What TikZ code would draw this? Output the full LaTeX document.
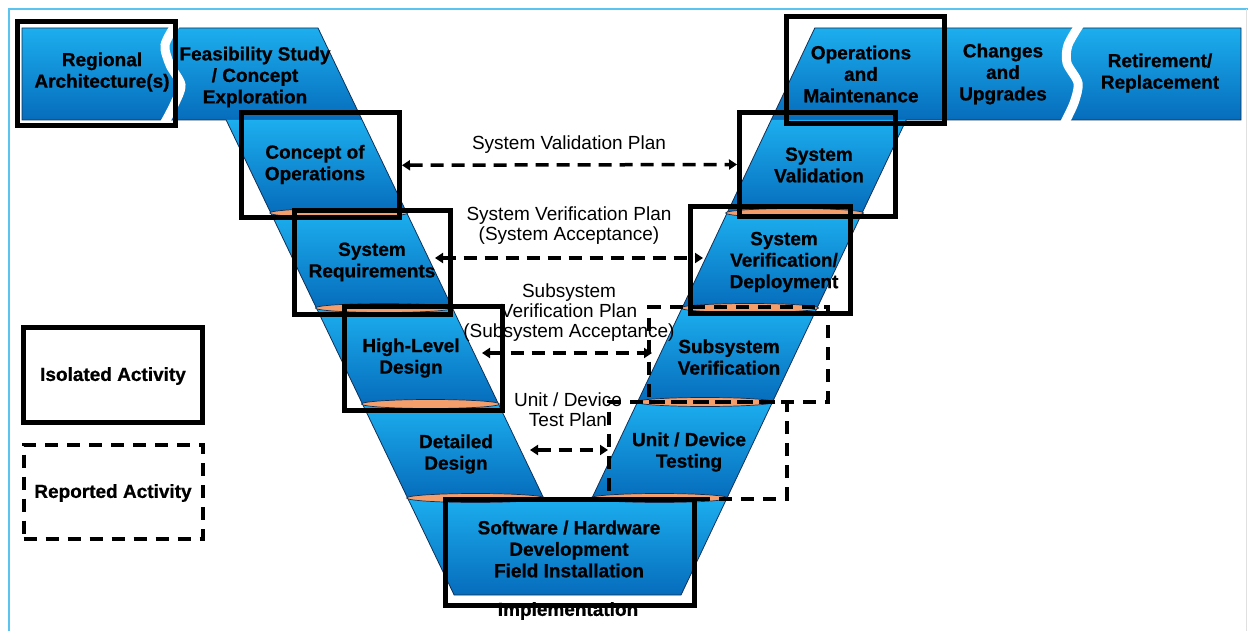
\documentclass[tikz,border=0pt]{standalone}
\usepackage{fontspec}
\setmainfont{Liberation Sans}[BoldFeatures={FakeBold=0.8}]
\usetikzlibrary{arrows.meta}
\usetikzlibrary{fit}

\definecolor{vlight}{RGB}{28,174,238}
\definecolor{vdark}{RGB}{6,108,188}
\definecolor{vedge}{RGB}{18,48,86}
\definecolor{seamcol}{RGB}{244,158,108}
\definecolor{framecol}{RGB}{90,195,240}

\tikzset{
  band/.style={top color=vlight,bottom color=vdark},
  seam/.style={fill=seamcol,draw=vedge,line width=0.7pt},
  stage/.style={font=\bfseries\fontsize{19}{21.5}\selectfont,align=center,inner sep=0pt},
  plantext/.style={font=\fontsize{19}{20}\selectfont,align=center,inner sep=0pt},
  isolated/.style={draw=black,line width=5pt,inner sep=0pt},
  reported/.style={draw=black,line width=4pt,dash pattern=on 13pt off 9pt,inner sep=0pt},
  plan/.style={line width=3.5pt,dash pattern=on 13pt off 8pt,
    {Triangle[width=10pt,length=8pt]}-{Triangle[width=10pt,length=8pt]}},
  declare function={lx(\t)=182+0.48*(\t-28); rx(\t)=318+0.48*(\t-28);
    ll(\t)=592+0.474*(498-\t); rr(\t)=727+0.474*(498-\t);}
}

\begin{document}
\begin{tikzpicture}[x=1pt,y=-1pt]
\useasboundingbox (0,0) rectangle (1248,631);
\draw[framecol,line width=2.5pt] (9,640) -- (9,9) -- (1250,9);
\draw[black!12,line width=1pt] (1246.5,9) -- (1246.5,640);

% the V
\path[band] (22,28) -- (318,28) -- ({rx(120)},120) -- (22,120) -- cycle;
\path[band] ({ll(28)},28) -- (1241,28) -- (1241,120) -- ({ll(120)},120) -- cycle;
\foreach \ya/\yb in {120/213,213/308,308/404,404/498}
  \path[band] ({lx(\ya)},\ya) -- ({rx(\ya)},\ya) -- ({rx(\yb)},\yb) -- ({lx(\yb)},\yb) -- cycle;
\foreach \ya/\yb in {120/213,213/308,308/402,402/498}
  \path[band] ({ll(\ya)},\ya) -- ({rr(\ya)},\ya) -- ({rr(\yb)},\yb) -- ({ll(\yb)},\yb) -- cycle;
\path[band] ({lx(498)},498) -- ({rr(498)},498) -- ({rr(595)},595) -- ({lx(595)},595) -- cycle;
\draw[vedge,line width=0.8pt] (22,28) -- (318,28) -- ({rx(498)},498) -- ({ll(498)},498)
  -- ({ll(28)},28) -- (1241,28) -- (1241,120) -- ({rr(120)},120) -- ({rr(595)},595)
  -- ({lx(595)},595) -- ({lx(120)},120) -- (22,120) -- cycle;
\draw[white,line width=9pt] plot[smooth] coordinates {(176,24) (165,45) (170,65) (181,85) (174,105) (164,124)};
\draw[white,line width=9pt] plot[smooth] coordinates {(1080,24) (1068,45) (1067,63) (1078,83) (1074,103) (1064,124)};
\foreach \y in {213,308,404,498}
  \filldraw[seam] ({(lx(\y)+rx(\y))/2},\y) ellipse [x radius=69,y radius=4.5];
\foreach \y in {213,308,402,498}
  \filldraw[seam] ({(ll(\y)+rr(\y))/2},\y) ellipse [x radius=69,y radius=4.5];

% stages
\node[stage] (treg) at (102,72) {Regional\\Architecture(s)};
\node[stage] (tfeas) at (255,77) {Feasibility Study\\/ Concept\\Exploration};
\node[stage] (tcop) at (315,164.5) {Concept of\\Operations};
\node[stage] (tsr) at (372,262) {System\\Requirements};
\node[stage] (thld) at (411,358) {High-Level\\Design};
\node[stage] (tdd) at (456,454) {Detailed\\Design};
\node[stage] (tsw) at (569,549) {Software / Hardware\\Development\\Field Installation};
\node[stage] (timp) at (568,611) {Implementation};
\node[stage] (tom) at (861,74) {Operations\\and\\Maintenance};
\node[stage] (tcu) at (1003,74) {Changes\\and\\Upgrades};
\node[stage] (tret) at (1160,73) {Retirement/\\Replacement};
\node[stage] (tval) at (819,165) {System\\Validation};
\node[stage] (tver) at (784,262) {System\\Verification/\\Deployment};
\node[stage] (tssv) at (729,357) {Subsystem\\Verification};
\node[stage] (tudt) at (689,452) {Unit / Device\\Testing};
\node[stage] (tiso) at (113,376) {Isolated Activity};
\node[stage] (trep) at (113,493) {Reported Activity};

% activity boxes
\node[isolated,fit={(17.5,22) (175.5,125.5)}] (breg) {};
\node[isolated,fit={(241.5,113) (399.5,217.5)}] (bcop) {};
\node[isolated,fit={(294,210.5) (450.5,314.5)}] (bsr) {};
\node[isolated,fit={(344.5,306.5) (502.5,410.5)}] (bhld) {};
\node[isolated,fit={(445,499) (694.5,605.5)}] (bsw) {};
\node[isolated,fit={(786.5,16.5) (944.5,123.5)}] (bom) {};
\node[isolated,fit={(739.5,112.5) (895.5,216.5)}] (bval) {};
\node[isolated,fit={(690.5,206.5) (850.5,313.5)}] (bver) {};
\node[reported,fit={(649,307) (827.5,401.5)}] (rssv) {};
\node[reported,fit={(609,401.5) (786.5,498.5)}] (rudt) {};
\node[isolated,fit={(23.5,327.5) (202.5,422.5)}] (kiso) {};
\node[reported,fit={(23.5,444.5) (202.5,538.5)}] (krep) {};

% plans
\coordinate (svl) at (435,258);
\coordinate (svr) at (703,258);
\coordinate (ssl) at (482,353);
\coordinate (ssr) at (652,353);
\coordinate (udl) at (530,450);
\coordinate (udr) at (608,450);
\draw[plan] (bcop.east) -- (bval.west);
\draw[plan] (svl) -- (svr);
\draw[plan] (ssl) -- (ssr);
\draw[plan] (udl) -- (udr);
\node[plantext] (lval) at (569,145) {System Validation Plan};
\node[plantext] (lver) at (569,226) {System Verification Plan\\(System Acceptance)};
\node[plantext] (lsub) at (569,313) {Subsystem\\Verification Plan\\(Subsystem Acceptance)};
\node[plantext] (lunit) at (568,410) {Unit / Device\\Test Plan};
\end{tikzpicture}
\end{document}
